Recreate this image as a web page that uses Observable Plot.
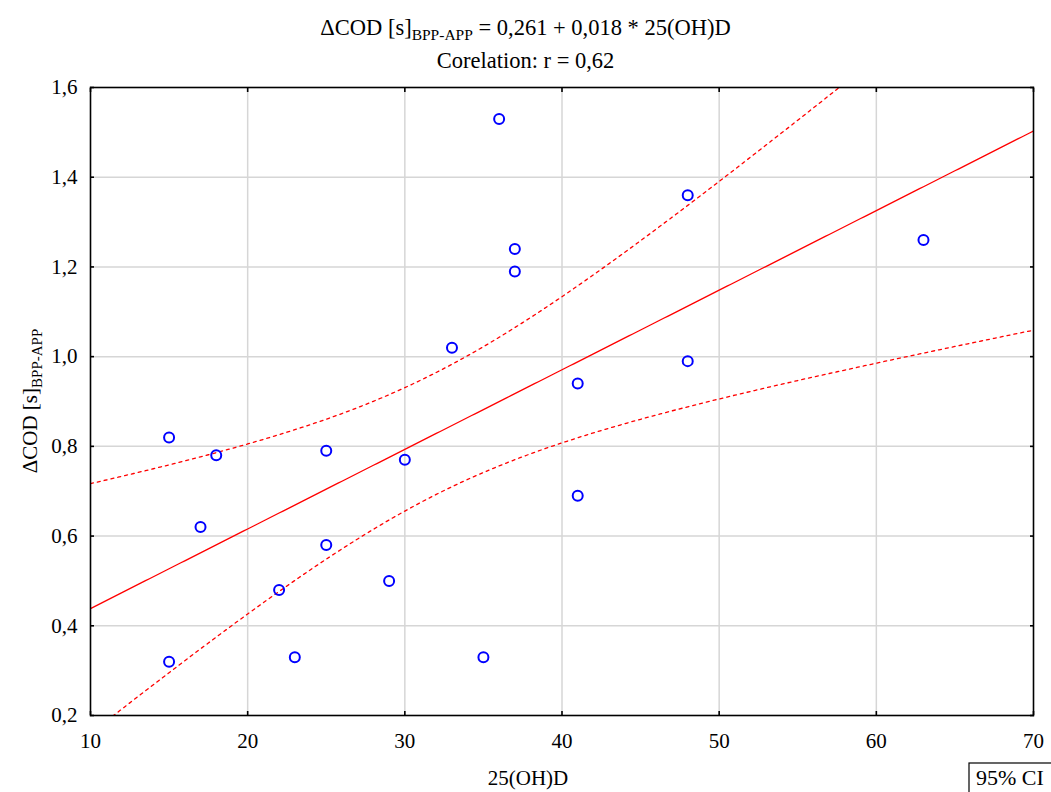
<!DOCTYPE html>
<html><head><meta charset="utf-8">
<script src="https://cdn.jsdelivr.net/npm/d3@7"></script>
<script src="https://cdn.jsdelivr.net/npm/@observablehq/plot@0.6"></script>
<style>
body{margin:0;background:#fff;font-family:"Liberation Serif","Times New Roman",serif;color:#000}
#title{width:1051px;height:70px;text-align:center;font-size:22.5px;line-height:31px;padding-top:11.5px;box-sizing:border-box}
#title .sub{font-size:15.5px;position:relative;top:5px}
</style></head><body>
<div id="title"><div>ΔCOD [s]<span class="sub">BPP-APP</span> = 0,261 + 0,018 * 25(OH)D</div><div>Corelation: r = 0,62</div></div>
<div id="chart"></div>
<script>
// data
const vitD = [15, 15, 17, 18, 22, 23, 25, 25, 29, 30, 33, 35, 36, 37, 37, 41, 41, 48, 48, 63];
const dCOD = [0.82, 0.32, 0.62, 0.78, 0.48, 0.33, 0.79, 0.58, 0.50, 0.77, 1.02, 0.33, 1.53, 1.24, 1.19, 0.94, 0.69, 1.36, 0.99, 1.26];
const xTicks = [10, 20, 30, 40, 50, 60, 70];
const yTicks = [0.2, 0.4, 0.6, 0.8, 1.0, 1.2, 1.4, 1.6];
const xDomain = [10, 70];
const yDomain = [0.2, 1.6];

const points = vitD.map((x, i) => ({x, y: dCOD[i]}));

// least squares fit + 95% confidence band for the mean, computed from the data
const n = vitD.length;
const mx = d3.mean(vitD), my = d3.mean(dCOD);
const sxx = d3.sum(vitD, x => (x - mx) ** 2);
const sxy = d3.sum(points, p => (p.x - mx) * (p.y - my));
const b = sxy / sxx, a = my - b * mx;
const sse = d3.sum(points, p => (p.y - (a + b * p.x)) ** 2);
const s = Math.sqrt(sse / (n - 2));
const t = 2.100922; // t(0.975, 18)
const curve = d3.range(xDomain[0], xDomain[1] + 0.001, 0.25).map(x => {
  const f = a + b * x;
  const h = t * s * Math.sqrt(1 / n + (x - mx) ** 2 / sxx);
  return {x, fit: f, lo: f - h, hi: f + h};
});

const fmt = d => d3.format(".1f")(d).replace(".", ",");
const none = () => "";
const red = "#ff0000";

const chart = Plot.plot({
  width: 1051,
  height: 722,
  marginTop: 17,
  marginRight: 18,
  marginBottom: 77,
  marginLeft: 90,
  style: {fontFamily: "'Liberation Serif','Times New Roman',serif", fontSize: "21px", color: "#000", background: "#fff"},
  x: {domain: xDomain, label: null},
  y: {domain: yDomain, label: null},
  marks: [
    Plot.gridX(xTicks.slice(1, -1), {stroke: "#d6d6d6", strokeOpacity: 1, strokeWidth: 1.5}),
    Plot.gridY(yTicks.slice(1, -1), {stroke: "#d6d6d6", strokeOpacity: 1, strokeWidth: 1.5}),
    Plot.line(curve, {x: "x", y: "fit", stroke: red, strokeWidth: 1.3, clip: true}),
    Plot.line(curve, {x: "x", y: "lo", stroke: red, strokeWidth: 1.3, strokeDasharray: "3,4", clip: true}),
    Plot.line(curve, {x: "x", y: "hi", stroke: red, strokeWidth: 1.3, strokeDasharray: "3,4", clip: true}),
    Plot.dot(points, {x: "x", y: "y", r: 5, stroke: "#0000ff", strokeWidth: 2, fill: "none"}),
    Plot.frame({stroke: "#000", strokeWidth: 1.6}),
    Plot.axisX(xTicks, {anchor: "bottom", tickSize: -4, tickPadding: 22, fontSize: 21, label: null, strokeWidth: 1.6}),
    Plot.axisX(xTicks, {anchor: "top", tickSize: -4, tickFormat: none, label: null, strokeWidth: 1.6}),
    Plot.axisY(yTicks, {anchor: "left", tickSize: -4, tickPadding: 17, fontSize: 21, tickFormat: fmt, label: null, strokeWidth: 1.6}),
    Plot.axisY(yTicks, {anchor: "right", tickSize: -4, tickFormat: none, label: null, strokeWidth: 1.6})
  ]
});
document.getElementById("chart").appendChild(chart);

const svg = d3.select(chart);
const ff = "'Liberation Serif','Times New Roman',serif";
// y axis label with subscript
const yl = svg.append("text")
  .attr("transform", "translate(37,331) rotate(-90)")
  .attr("text-anchor", "middle")
  .attr("font-family", ff).attr("font-size", 21).attr("fill", "#000");
yl.append("tspan").text("ΔCOD [s]");
yl.append("tspan").attr("font-size", 15).attr("dy", 5).text("BPP-APP");
// x axis label
svg.append("text").attr("x", 528).attr("y", 715).attr("text-anchor", "middle")
  .attr("font-family", ff).attr("font-size", 21).attr("fill", "#000").text("25(OH)D");
// legend box
svg.append("rect").attr("x", 969).attr("y", 693).attr("width", 100).attr("height", 50)
  .attr("fill", "none").attr("stroke", "#000").attr("stroke-width", 1.2);
svg.append("text").attr("x", 976).attr("y", 715).attr("text-anchor", "start")
  .attr("font-family", ff).attr("font-size", 22).attr("fill", "#000").text("95% CI");
</script>
</body></html>
